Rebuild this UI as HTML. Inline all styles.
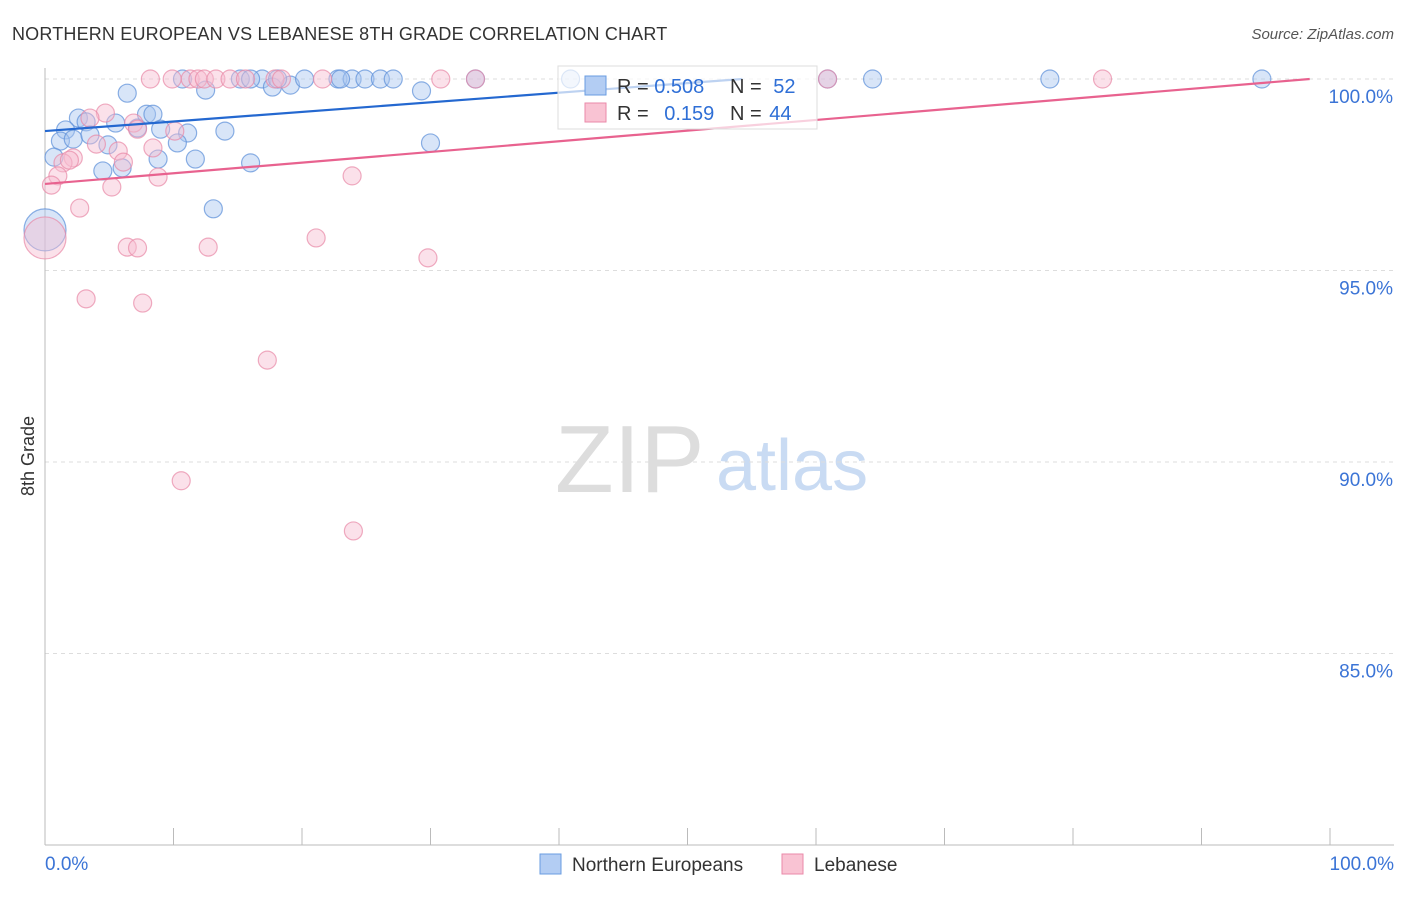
<!DOCTYPE html>
<html><head><meta charset="utf-8"><style>
body{margin:0;background:#fff;font-family:"Liberation Sans",sans-serif}
svg text{font-family:"Liberation Sans",sans-serif}
</style></head><body>
<svg id="c" width="1406" height="892" xmlns="http://www.w3.org/2000/svg">
<text x="12" y="40" font-size="18" letter-spacing="0.18" fill="#333">NORTHERN EUROPEAN VS LEBANESE 8TH GRADE CORRELATION CHART</text>
<text x="1394" y="39" font-size="15" fill="#555" text-anchor="end" font-style="italic">Source: ZipAtlas.com</text>
<text x="34" y="456" font-size="18" fill="#333" text-anchor="middle" transform="rotate(-90 34 456)">8th Grade</text>
<text x="555" y="492" font-size="96" fill="#ddd" font-family="Liberation Serif">ZIP</text>
<text x="716" y="490" font-size="72" fill="#c9dbf3">atlas</text>
<g id="grid"></g><g id="pts"></g><g id="lines"></g>
<g>
<rect x="558" y="66" width="259" height="63" fill="#fff" fill-opacity="0.7" stroke="#ddd"/>
<rect x="585" y="76" width="21" height="19" fill="#b3cdf3" stroke="#6a9ce0"/>
<rect x="585" y="103" width="21" height="19" fill="#f9c3d3" stroke="#ea8aa8"/>
<text x="617" y="93" font-size="20" fill="#333">R = <tspan fill="#2f6fd6">0.508</tspan></text>
<text x="730" y="93" font-size="20" fill="#333">N = <tspan fill="#2f6fd6" dx="6">52</tspan></text>
<text x="617" y="120" font-size="20" fill="#333">R = <tspan fill="#2f6fd6" dx="10">0.159</tspan></text>
<text x="730" y="120" font-size="20" fill="#333">N = <tspan fill="#2f6fd6" dx="2">44</tspan></text>
</g>
<g>
<rect x="540" y="854" width="21" height="20" fill="#b3cdf3" stroke="#6a9ce0"/>
<text x="572" y="871" font-size="19" fill="#333">Northern Europeans</text>
<rect x="782" y="854" width="21" height="20" fill="#f9c3d3" stroke="#ea8aa8"/>
<text x="814" y="871" font-size="19" fill="#333">Lebanese</text>
</g>
</svg>
<script>
const yTicks=[100,95,90,85];
const xTickLabels=["0.0%","100.0%"];
const blueX=[6.4,10.7,12.5,15.2,16.9,17.7,19.1,20.2,22.8,23.9,24.9,26.1,27.1,29.3,33.5,40.9,60.9,64.4,78.2,94.7,16.0,18.1,23.0,2.6,3.2,1.6,5.5,7.2,7.9,8.4,9.0,11.1,14.0,1.2,2.2,3.5,4.9,10.3,0.7,8.8,11.7,16.0,4.5,6.0,30.0,13.1,0.0];
const blueY=[99.63,100,99.71,100,100,99.79,99.84,100,100,100,100,100,100,99.69,100,100,100,100,100,100,100,100,100,98.98,98.88,98.67,98.85,98.72,99.08,99.08,98.69,98.59,98.64,98.38,98.43,98.54,98.28,98.33,97.96,97.91,97.91,97.81,97.60,97.68,98.33,96.61,96.06];
const blueR=[9,9,9,9,9,9,9,9,9,9,9,9,9,9,9,9,9,9,9,9,9,9,9,9,9,9,9,9,9,9,9,9,9,9,9,9,9,9,9,9,9,9,9,9,9,9,21];
const pinkX=[8.2,9.9,11.3,11.9,12.4,13.3,14.4,15.6,17.9,18.4,21.6,30.8,33.5,60.9,82.3,4.7,3.5,6.9,10.1,2.2,5.7,4.0,6.1,8.4,1.4,1.0,0.5,5.2,8.8,23.9,2.7,6.4,7.2,12.7,21.1,29.8,3.2,7.6,17.3,10.6,24.0,0.0,1.9,7.2];
const pinkY=[100,100,100,100,100,100,100,100,100,100,100,100,100,100,100,99.11,98.98,98.85,98.64,97.94,98.12,98.30,97.83,98.20,97.81,97.47,97.23,97.18,97.44,97.47,96.63,95.61,95.59,95.61,95.85,95.33,94.26,94.15,92.66,89.51,88.20,95.85,97.88,98.69];
const pinkR=[9,9,9,9,9,9,9,9,9,9,9,9,9,9,9,9,9,9,9,9,9,9,9,9,9,9,9,9,9,9,9,9,9,9,9,9,9,9,9,9,9,21,9,9];
const blueLine=[98.64,0.02506];
const pinkLine=[97.26,0.02784];
const NS="http://www.w3.org/2000/svg";
const X0=45,X1=1330,Y100=79,PXP=38.3;
function sx(v){return X0+(X1-X0)*v/100}
function sy(v){return Y100+(100-v)*PXP}
function mk(t,a,p){const e=document.createElementNS(NS,t);for(const k in a)e.setAttribute(k,a[k]);p.appendChild(e);return e}
const grid=document.getElementById('grid');
yTicks.forEach(v=>{
 const l=mk('line',{x1:45,x2:1394,y1:sy(v),y2:sy(v),stroke:'#ddd','stroke-dasharray':'4,4'},grid);
 
 
 const t=mk('text',{x:1393,y:sy(v)+24,'font-size':19,fill:'#3b74d6','text-anchor':'end'},grid);
 t.textContent=v.toFixed(1)+'%';
 
 
});
const ax=mk('line',{x1:45,x2:45,y1:68,y2:845,stroke:'#bbb'},grid);


const bx=mk('line',{x1:45,x2:1394,y1:845,y2:845,stroke:'#bbb'},grid);


for(let i=0;i<=10;i++){const x=sx(i*10);const t=mk('line',{x1:x,x2:x,y1:828,y2:845,stroke:'#bbb'},grid);
 
 }
xTickLabels.forEach((s,i)=>{const t=mk('text',{x:i?1394:45,y:870,'font-size':19,fill:'#3b74d6','text-anchor':i?'end':'start'},grid);t.textContent=s;
 
 });
const pts=document.getElementById('pts');
function series(xs,ys,rs,fill,stroke,name){xs.forEach((x,i)=>{const c=mk('circle',{cx:sx(x),cy:sy(ys[i]),r:rs[i],fill:fill,'fill-opacity':0.45,stroke:stroke,'stroke-opacity':0.7,'stroke-width':1.2},pts);
 
 });}
series(blueX,blueY,blueR,'#a9c6f0','#5b8fd9','point-northern-european');
series(pinkX,pinkY,pinkR,'#f7bdd0','#e889a7','point-lebanese');
const lines=document.getElementById('lines');
function reg(p,col,name){const xe=Math.min(100,(100-p[0])/p[1]);const l=mk('line',{x1:sx(0),y1:sy(p[0]),x2:sx(xe),y2:sy(p[0]+p[1]*xe),stroke:col,'stroke-width':2.2},lines);
 
 }
reg(blueLine,'#2468d0','trend-line-northern-european');
reg(pinkLine,'#e8628f','trend-line-lebanese');
</script>
</body></html>
